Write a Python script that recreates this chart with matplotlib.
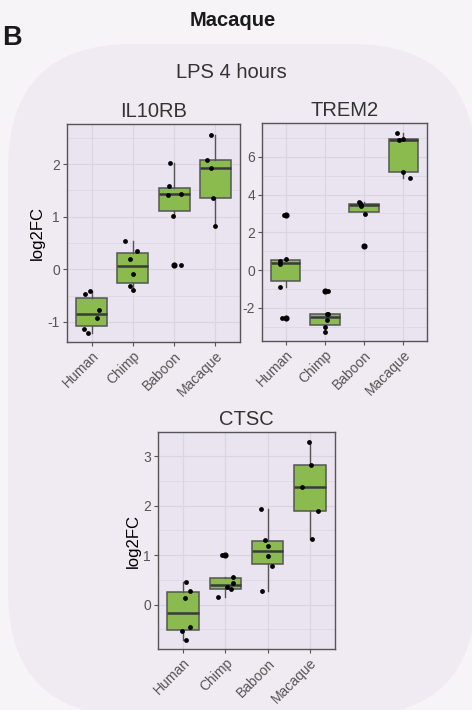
import matplotlib
matplotlib.use("Agg")
import matplotlib.pyplot as plt
from matplotlib.patches import FancyBboxPatch
import numpy as np

plt.rcParams['font.family'] = ['Liberation Sans', 'DejaVu Sans']
plt.rcParams['axes.unicode_minus'] = False

species = ["Human", "Chimp", "Baboon", "Macaque"]

# ---- IL10RB ----
il10rb_human = [-0.405, -0.475, -0.78, -0.93, -1.13, -1.215]
il10rb_chimp = [0.544, 0.348, 0.19, -0.082, -0.323, -0.392]
il10rb_baboon = [2.025, 1.589, 1.418, 1.437, 1.006, 0.082]
il10rb_macaque = [2.557, 2.07, 1.93, 1.348, 0.829]
il10rb_jit = [[-0.05, -0.16, 0.18, 0.13, -0.19, -0.08],
              [-0.18, 0.09, -0.07, 0.0, -0.07, 0.0],
              [-0.11, -0.13, -0.15, 0.16, -0.03, 0.16],
              [-0.10, -0.19, -0.10, -0.06, 0.0]]

# ---- TREM2 ----
trem2_human = [2.94, 0.57, 0.50, 0.30, -0.88, -2.51]
trem2_chimp = [-1.115, -2.30, -2.34, -2.66, -2.99, -3.29]
trem2_baboon = [3.63, 3.54, 3.45, 3.41, 2.97, 1.29]
trem2_macaque = [7.26, 6.96, 6.87, 5.19, 4.90]
trem2_jit = [[-0.05, 0.0, -0.15, -0.13, -0.15, -0.08],
             [0.09, 0.05, 0.09, 0.05, 0.0, 0.0],
             [-0.13, -0.10, -0.09, -0.08, 0.03, 0.0],
             [-0.17, 0.0, -0.12, 0.0, 0.16]]

# ---- CTSC ----
ctsc_human = [0.465, 0.283, 0.135, -0.465, -0.54, -0.72]
ctsc_chimp = [1.005, 0.566, 0.43, 0.364, 0.31, 0.155]
ctsc_baboon = [1.93, 1.308, 1.187, 0.984, 0.775, 0.27]
ctsc_macaque = [3.29, 2.83, 2.387, 1.895, 1.328]
ctsc_jit = [[0.07, 0.15, 0.05, 0.15, -0.02, 0.07],
            [-0.09, 0.19, 0.19, 0.03, 0.14, -0.18],
            [-0.16, -0.07, 0.02, 0.0, 0.10, -0.14],
            [-0.02, 0.02, -0.18, 0.19, 0.06]]

il10rb_ticks = [-1, 0, 1, 2]
trem2_ticks = [-2, 0, 2, 4, 6]
ctsc_ticks = [0, 1, 2, 3]

W, H = 472, 710
fig = plt.figure(figsize=(W / 100, H / 100), dpi=100)

OUTER = '#f6f4f7'
BUBBLE = '#f0eaf3'
PANEL = '#e9e4ef'
GRID = '#dad5e0'
GREEN = '#8bbb4f'
EDGE = '#555555'
TXT = '#555555'

fig.patch.set_facecolor(OUTER)

bg = fig.add_axes([0, 0, 1, 1], zorder=-5)
bg.set_xlim(0, W)
bg.set_ylim(H, 0)
bg.axis('off')
bg.add_patch(FancyBboxPatch((8, 44), 468, 672,
                            boxstyle="round,pad=0,rounding_size=125",
                            facecolor=BUBBLE, edgecolor='none'))


def px_axes(left, top, right, bottom):
    return fig.add_axes([left / W, 1 - bottom / H, (right - left) / W, (bottom - top) / H])


def panel(ax, groups, jits, ticks, ylim, title, ylabel):
    ax.set_facecolor(PANEL)
    pos = np.arange(1, len(groups) + 1)
    step = ticks[1] - ticks[0]
    minor = [t + step / 2 for t in ticks] + [ticks[0] - step / 2]
    for m in minor:
        if ylim[0] < m < ylim[1]:
            ax.axhline(m, color=GRID, lw=0.5, zorder=0)
    for t in ticks:
        ax.axhline(t, color=GRID, lw=0.9, zorder=0)
    for p in pos:
        ax.axvline(p, color=GRID, lw=0.9, zorder=0)
    ax.boxplot(groups, positions=pos, widths=0.75, patch_artist=True, showcaps=False,
               boxprops=dict(facecolor=GREEN, edgecolor=EDGE, linewidth=1.1),
               medianprops=dict(color='#3a3a3a', linewidth=1.8),
               whiskerprops=dict(color=EDGE, linewidth=1.0),
               flierprops=dict(marker='o', markerfacecolor='black', markeredgecolor='black',
                               markersize=3.4),
               zorder=2)
    for p, g, j in zip(pos, groups, jits):
        ax.scatter(np.array(j) + p, g, s=12, color='black', zorder=4, linewidths=0)
    ax.set_xlim(0.4, len(groups) + 0.6)
    ax.set_ylim(*ylim)
    ax.set_yticks(ticks)
    ax.set_yticklabels([str(t) for t in ticks])
    ax.set_xticks(pos)
    ax.set_xticklabels(species, rotation=45, ha='right', va='top', rotation_mode='anchor')
    ax.tick_params(colors=TXT, labelsize=10, length=3, width=0.8, pad=2)
    for s in ax.spines.values():
        s.set_color(EDGE)
        s.set_linewidth(1.0)
    ax.set_title(title, fontsize=14.5, color='#333333', pad=5)
    if ylabel:
        ax.set_ylabel(ylabel, fontsize=12, color='black', labelpad=2)


ax1 = px_axes(67, 124, 240, 342)
panel(ax1, [il10rb_human, il10rb_chimp, il10rb_baboon, il10rb_macaque], il10rb_jit,
      il10rb_ticks, (-1.38, 2.76), "IL10RB", "log2FC")

ax2 = px_axes(262, 123, 427, 341)
panel(ax2, [trem2_human, trem2_chimp, trem2_baboon, trem2_macaque], trem2_jit,
      trem2_ticks, (-3.75, 7.79), "TREM2", None)

ax3 = px_axes(158, 432, 335, 649)
panel(ax3, [ctsc_human, ctsc_chimp, ctsc_baboon, ctsc_macaque], ctsc_jit,
      ctsc_ticks, (-0.90, 3.49), "CTSC", "log2FC")

fig.text(233 / W, 1 - 20 / H, "Macaque", fontsize=14.5, fontweight='bold',
         ha='center', va='center', color='#1a1a1a')
fig.text(2 / W, 1 - 38 / H, "B", fontsize=19.5, fontweight='bold',
         ha='left', va='center', color='#1a1a1a')
fig.text(231 / W, 1 - 72 / H, "LPS 4 hours", fontsize=14.5,
         ha='center', va='center', color='#333333')

fig.savefig("out.png", dpi=100, facecolor=fig.get_facecolor())
